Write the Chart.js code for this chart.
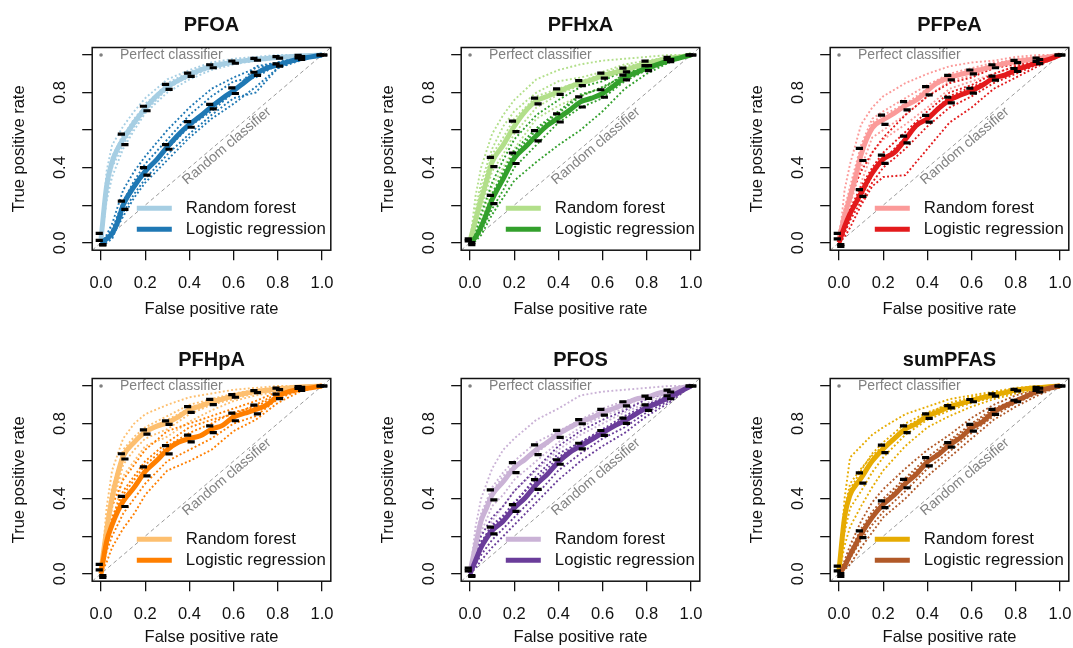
<!DOCTYPE html>
<html>
<head>
<meta charset="utf-8">
<script src="https://cdn.jsdelivr.net/npm/chart.js@4.4.1/dist/chart.umd.min.js"></script>
<style>
  html, body { margin: 0; padding: 0; background: #fff; width: 1073px; height: 648px; overflow: hidden; }
  canvas { position: absolute; }
</style>
</head>
<body>
<canvas id="c0" width="369" height="320" style="left:0px;top:0px"></canvas>
<canvas id="c1" width="369" height="320" style="left:369px;top:0px"></canvas>
<canvas id="c2" width="369" height="320" style="left:738px;top:0px"></canvas>
<canvas id="c3" width="369" height="320" style="left:0px;top:331px"></canvas>
<canvas id="c4" width="369" height="320" style="left:369px;top:331px"></canvas>
<canvas id="c5" width="369" height="320" style="left:738px;top:331px"></canvas>
<script>
// axes
var tickValues = [0, 0.2, 0.4, 0.6, 0.8, 1];
var xTickLabels = ["0.0", "0.2", "0.4", "0.6", "0.8", "1.0"];
var yTickLabels = ["0.0", "", "0.4", "", "0.8", ""];

// false positive rate grids
var meanFpr = [0, 0.025, 0.05, 0.075, 0.1, 0.15, 0.2, 0.25, 0.3, 0.35, 0.4, 0.45, 0.5, 0.55, 0.6, 0.65, 0.7, 0.75, 0.8, 0.85, 0.9, 0.95, 1];
var foldFpr = [0, 0.025, 0.05, 0.1, 0.15, 0.2, 0.3, 0.4, 0.5, 0.6, 0.7, 0.8, 0.9, 1];
var errFpr  = [0, 0.1, 0.2, 0.3, 0.4, 0.5, 0.6, 0.7, 0.8, 0.9, 1];

// PFOA
var pfoaRf = [0.02, 0.30, 0.43, 0.50, 0.55, 0.64, 0.715, 0.78, 0.83, 0.865, 0.895, 0.92, 0.94, 0.952, 0.962, 0.97, 0.977, 0.982, 0.987, 0.991, 0.995, 0.998, 1];
var pfoaLr = [0, 0.02, 0.05, 0.11, 0.2, 0.3, 0.38, 0.44, 0.51, 0.575, 0.63, 0.675, 0.725, 0.77, 0.81, 0.855, 0.9, 0.93, 0.947, 0.965, 0.98, 0.99, 1];
var pfoaRfErr = [0.03, 0.028, 0.012, 0.013, 0.009, 0.008, 0.006, 0.005, 0.004, 0.003, 0];
var pfoaLrErr = [0.012, 0.022, 0.02, 0.012, 0.015, 0.012, 0.015, 0.008, 0.006, 0.004, 0];
var pfoaRfFolds = [
  [0, 0.38, 0.52, 0.62, 0.70, 0.77, 0.87, 0.92, 0.96, 0.98, 0.99, 1, 1, 1],
  [0, 0.22, 0.35, 0.50, 0.60, 0.69, 0.80, 0.87, 0.92, 0.95, 0.97, 0.98, 0.99, 1],
  [0.05, 0.33, 0.46, 0.57, 0.66, 0.73, 0.85, 0.91, 0.95, 0.97, 0.98, 0.99, 1, 1],
  [0, 0.25, 0.40, 0.52, 0.62, 0.70, 0.82, 0.89, 0.93, 0.96, 0.975, 0.99, 0.995, 1],
  [0.02, 0.30, 0.45, 0.58, 0.63, 0.74, 0.84, 0.88, 0.94, 0.955, 0.97, 0.985, 1, 1]
];
var pfoaLrFolds = [
  [0, 0.04, 0.10, 0.28, 0.38, 0.46, 0.60, 0.72, 0.82, 0.88, 0.93, 0.96, 0.99, 1],
  [0, 0.01, 0.03, 0.14, 0.24, 0.32, 0.44, 0.56, 0.66, 0.74, 0.83, 0.93, 0.97, 1],
  [0, 0.03, 0.07, 0.22, 0.33, 0.42, 0.55, 0.68, 0.78, 0.86, 0.88, 0.95, 0.98, 1],
  [0, 0.0, 0.02, 0.16, 0.26, 0.34, 0.47, 0.58, 0.68, 0.77, 0.80, 0.93, 0.98, 1],
  [0, 0.02, 0.06, 0.21, 0.30, 0.39, 0.50, 0.62, 0.70, 0.80, 0.94, 0.96, 0.99, 1]
];

// PFHxA
var pfhxaRf = [0.01, 0.12, 0.23, 0.33, 0.43, 0.52, 0.62, 0.70, 0.755, 0.78, 0.805, 0.83, 0.85, 0.867, 0.89, 0.905, 0.92, 0.938, 0.955, 0.97, 0.982, 0.99, 1];
var pfhxaLr = [0, 0.03, 0.085, 0.155, 0.23, 0.34, 0.45, 0.51, 0.57, 0.625, 0.665, 0.705, 0.75, 0.77, 0.795, 0.835, 0.88, 0.905, 0.93, 0.95, 0.97, 0.985, 1];
var pfhxaRfErr = [0.01, 0.025, 0.028, 0.015, 0.015, 0.013, 0.013, 0.01, 0.012, 0.006, 0];
var pfhxaLrErr = [0.01, 0.022, 0.028, 0.027, 0.022, 0.027, 0.02, 0.013, 0.013, 0.006, 0];
var pfhxaRfFolds = [
  [0, 0.25, 0.40, 0.58, 0.68, 0.76, 0.87, 0.92, 0.95, 0.97, 0.98, 0.99, 1, 1],
  [0, 0.05, 0.12, 0.30, 0.40, 0.50, 0.66, 0.73, 0.78, 0.83, 0.87, 0.93, 0.97, 1],
  [0.03, 0.15, 0.28, 0.47, 0.56, 0.66, 0.78, 0.82, 0.86, 0.90, 0.94, 0.96, 0.98, 1],
  [0, 0.08, 0.18, 0.38, 0.47, 0.58, 0.72, 0.79, 0.84, 0.88, 0.90, 0.94, 0.98, 1],
  [0, 0.18, 0.32, 0.50, 0.62, 0.70, 0.80, 0.86, 0.88, 0.91, 0.95, 0.97, 0.99, 1]
];
var pfhxaLrFolds = [
  [0, 0.06, 0.15, 0.32, 0.44, 0.55, 0.68, 0.76, 0.83, 0.86, 0.92, 0.95, 0.98, 1],
  [0, 0.01, 0.04, 0.15, 0.24, 0.33, 0.43, 0.52, 0.60, 0.70, 0.82, 0.90, 0.96, 1],
  [0, 0.04, 0.10, 0.26, 0.38, 0.49, 0.61, 0.70, 0.79, 0.82, 0.90, 0.94, 0.97, 1],
  [0, 0.02, 0.06, 0.18, 0.28, 0.40, 0.52, 0.64, 0.72, 0.77, 0.86, 0.92, 0.96, 1],
  [0, 0.03, 0.09, 0.25, 0.36, 0.47, 0.60, 0.69, 0.78, 0.83, 0.89, 0.94, 0.99, 1]
];

// PFPeA
var pfpeaRf = [0.02, 0.14, 0.245, 0.35, 0.47, 0.61, 0.655, 0.69, 0.73, 0.76, 0.81, 0.855, 0.88, 0.897, 0.91, 0.925, 0.94, 0.955, 0.965, 0.973, 0.98, 0.99, 1];
var pfpeaLr = [0, 0.085, 0.155, 0.21, 0.265, 0.37, 0.445, 0.48, 0.55, 0.625, 0.66, 0.715, 0.76, 0.787, 0.81, 0.84, 0.877, 0.893, 0.92, 0.94, 0.96, 0.977, 1];
var pfpeaRfErr = [0.03, 0.032, 0.025, 0.022, 0.022, 0.012, 0.01, 0.008, 0.006, 0.004, 0];
var pfpeaLrErr = [0.02, 0.018, 0.022, 0.018, 0.018, 0.015, 0.013, 0.011, 0.008, 0.006, 0];
var pfpeaRfFolds = [
  [0, 0.28, 0.42, 0.63, 0.72, 0.78, 0.85, 0.90, 0.94, 0.96, 0.97, 0.99, 1, 1],
  [0, 0.05, 0.12, 0.32, 0.48, 0.55, 0.63, 0.72, 0.82, 0.86, 0.90, 0.94, 0.97, 1],
  [0.06, 0.18, 0.30, 0.52, 0.66, 0.70, 0.77, 0.84, 0.90, 0.93, 0.96, 0.97, 0.98, 1],
  [0, 0.10, 0.20, 0.40, 0.56, 0.60, 0.68, 0.78, 0.86, 0.89, 0.93, 0.96, 0.99, 1],
  [0.02, 0.16, 0.26, 0.48, 0.64, 0.68, 0.74, 0.82, 0.87, 0.92, 0.95, 0.98, 0.99, 1]
];
var pfpeaLrFolds = [
  [0, 0.15, 0.25, 0.38, 0.48, 0.56, 0.68, 0.78, 0.85, 0.88, 0.93, 0.95, 0.98, 1],
  [0, 0.03, 0.08, 0.20, 0.30, 0.35, 0.36, 0.50, 0.64, 0.72, 0.82, 0.88, 0.94, 1],
  [0, 0.10, 0.18, 0.30, 0.40, 0.48, 0.59, 0.70, 0.80, 0.84, 0.90, 0.94, 0.97, 1],
  [0, 0.05, 0.12, 0.22, 0.32, 0.40, 0.50, 0.62, 0.72, 0.78, 0.85, 0.90, 0.95, 1],
  [0, 0.08, 0.15, 0.24, 0.36, 0.44, 0.56, 0.67, 0.78, 0.83, 0.87, 0.93, 0.96, 1]
];

// PFHpA
var pfhpaRf = [0.02, 0.23, 0.405, 0.53, 0.625, 0.70, 0.755, 0.785, 0.805, 0.835, 0.875, 0.893, 0.915, 0.93, 0.947, 0.96, 0.97, 0.977, 0.985, 0.99, 0.995, 0.998, 1];
var pfhpaLr = [0, 0.17, 0.26, 0.33, 0.385, 0.46, 0.545, 0.6, 0.66, 0.70, 0.72, 0.735, 0.77, 0.79, 0.835, 0.855, 0.875, 0.9, 0.945, 0.97, 0.982, 0.99, 1];
var pfhpaRfErr = [0.03, 0.014, 0.011, 0.009, 0.015, 0.014, 0.007, 0.005, 0.004, 0.002, 0];
var pfhpaLrErr = [0.02, 0.027, 0.024, 0.022, 0.018, 0.018, 0.02, 0.023, 0.012, 0.005, 0];
var pfhpaRfFolds = [
  [0, 0.35, 0.55, 0.72, 0.80, 0.85, 0.90, 0.94, 0.96, 0.98, 0.99, 1, 1, 1],
  [0, 0.12, 0.26, 0.52, 0.60, 0.68, 0.73, 0.81, 0.87, 0.92, 0.95, 0.97, 0.99, 1],
  [0.05, 0.25, 0.44, 0.66, 0.73, 0.78, 0.84, 0.90, 0.93, 0.96, 0.98, 0.99, 1, 1],
  [0, 0.18, 0.35, 0.58, 0.66, 0.72, 0.77, 0.85, 0.90, 0.93, 0.96, 0.98, 0.99, 1],
  [0.02, 0.28, 0.46, 0.64, 0.71, 0.76, 0.82, 0.88, 0.93, 0.95, 0.97, 0.99, 1, 1]
];
var pfhpaLrFolds = [
  [0, 0.25, 0.36, 0.50, 0.58, 0.66, 0.76, 0.80, 0.84, 0.88, 0.92, 0.97, 0.99, 1],
  [0, 0.06, 0.14, 0.24, 0.32, 0.42, 0.55, 0.60, 0.66, 0.76, 0.82, 0.91, 0.97, 1],
  [0, 0.18, 0.28, 0.42, 0.50, 0.58, 0.68, 0.75, 0.80, 0.86, 0.89, 0.95, 0.98, 1],
  [0, 0.12, 0.20, 0.32, 0.40, 0.48, 0.60, 0.66, 0.72, 0.80, 0.84, 0.93, 0.98, 1],
  [0, 0.22, 0.30, 0.44, 0.52, 0.60, 0.70, 0.78, 0.82, 0.85, 0.90, 0.96, 0.99, 1]
];

// PFOS
var pfosRf = [0.01, 0.15, 0.28, 0.35, 0.42, 0.49, 0.565, 0.61, 0.66, 0.70, 0.745, 0.778, 0.81, 0.83, 0.86, 0.88, 0.905, 0.93, 0.94, 0.96, 0.973, 0.988, 1];
var pfosLr = [0, 0.07, 0.14, 0.19, 0.23, 0.28, 0.35, 0.405, 0.475, 0.53, 0.595, 0.645, 0.68, 0.715, 0.75, 0.785, 0.815, 0.85, 0.885, 0.91, 0.94, 0.97, 1];
var pfosRfErr = [0.02, 0.027, 0.027, 0.026, 0.019, 0.011, 0.015, 0.011, 0.006, 0.005, 0];
var pfosLrErr = [0.015, 0.018, 0.018, 0.026, 0.012, 0.015, 0.013, 0.014, 0.015, 0.008, 0];
var pfosRfFolds = [
  [0, 0.25, 0.40, 0.56, 0.66, 0.72, 0.82, 0.88, 0.95, 0.97, 0.98, 0.99, 1, 1],
  [0, 0.06, 0.15, 0.28, 0.36, 0.44, 0.55, 0.66, 0.74, 0.80, 0.86, 0.91, 0.96, 1],
  [0.03, 0.18, 0.32, 0.46, 0.54, 0.60, 0.70, 0.76, 0.82, 0.88, 0.92, 0.95, 0.98, 1],
  [0, 0.10, 0.22, 0.36, 0.42, 0.50, 0.60, 0.70, 0.78, 0.84, 0.88, 0.93, 0.96, 1],
  [0, 0.15, 0.30, 0.44, 0.52, 0.58, 0.64, 0.74, 0.80, 0.85, 0.90, 0.94, 0.98, 1]
];
var pfosLrFolds = [
  [0, 0.12, 0.20, 0.30, 0.36, 0.44, 0.56, 0.68, 0.76, 0.82, 0.87, 0.93, 0.97, 1],
  [0, 0.03, 0.07, 0.14, 0.20, 0.26, 0.38, 0.50, 0.60, 0.68, 0.75, 0.84, 0.91, 1],
  [0, 0.08, 0.16, 0.26, 0.31, 0.38, 0.50, 0.62, 0.70, 0.77, 0.84, 0.90, 0.95, 1],
  [0, 0.05, 0.10, 0.18, 0.24, 0.30, 0.42, 0.55, 0.64, 0.72, 0.78, 0.86, 0.92, 1],
  [0, 0.09, 0.17, 0.25, 0.30, 0.37, 0.52, 0.64, 0.70, 0.76, 0.83, 0.89, 0.95, 1]
];

// sumPFAS
var sumRf = [0.02, 0.30, 0.42, 0.47, 0.51, 0.60, 0.665, 0.72, 0.77, 0.80, 0.84, 0.863, 0.89, 0.906, 0.922, 0.938, 0.952, 0.965, 0.978, 0.986, 0.991, 0.996, 1];
var sumLr = [0, 0.04, 0.1, 0.155, 0.21, 0.3, 0.37, 0.42, 0.48, 0.53, 0.596, 0.635, 0.686, 0.725, 0.778, 0.81, 0.862, 0.893, 0.92, 0.947, 0.972, 0.988, 1];
var sumRfErr = [0.02, 0.027, 0.02, 0.018, 0.012, 0.006, 0.006, 0.006, 0.004, 0.002, 0];
var sumLrErr = [0.015, 0.018, 0.018, 0.022, 0.022, 0.012, 0.018, 0.013, 0.004, 0.004, 0];
var sumRfFolds = [
  [0, 0.40, 0.62, 0.68, 0.74, 0.78, 0.85, 0.89, 0.93, 0.95, 0.97, 0.99, 1, 1],
  [0, 0.15, 0.25, 0.36, 0.46, 0.55, 0.68, 0.78, 0.84, 0.89, 0.93, 0.96, 0.98, 1],
  [0.05, 0.32, 0.45, 0.55, 0.64, 0.70, 0.80, 0.86, 0.90, 0.93, 0.96, 0.98, 0.99, 1],
  [0, 0.22, 0.35, 0.44, 0.54, 0.62, 0.74, 0.82, 0.87, 0.91, 0.94, 0.97, 0.99, 1],
  [0.02, 0.34, 0.48, 0.56, 0.63, 0.68, 0.78, 0.85, 0.91, 0.94, 0.96, 0.98, 1, 1]
];
var sumLrFolds = [
  [0, 0.07, 0.15, 0.28, 0.38, 0.45, 0.56, 0.66, 0.74, 0.83, 0.90, 0.95, 0.98, 1],
  [0, 0.02, 0.05, 0.14, 0.22, 0.30, 0.40, 0.52, 0.62, 0.72, 0.82, 0.89, 0.95, 1],
  [0, 0.05, 0.12, 0.24, 0.33, 0.40, 0.51, 0.62, 0.71, 0.80, 0.88, 0.93, 0.98, 1],
  [0, 0.03, 0.08, 0.18, 0.26, 0.33, 0.44, 0.56, 0.65, 0.75, 0.84, 0.91, 0.96, 1],
  [0, 0.05, 0.11, 0.22, 0.31, 0.38, 0.50, 0.60, 0.70, 0.79, 0.87, 0.92, 0.97, 1]
];

var titles = ["PFOA", "PFHxA", "PFPeA", "PFHpA", "PFOS", "sumPFAS"];
var rfColors = ["#A6CEE3", "#B2DF8A", "#FB9A99", "#FDBF6F", "#CAB2D6", "#E6AB02"];
var lrColors = ["#1F78B4", "#33A02C", "#E31A1C", "#FF7F00", "#6A3D9A", "#B15928"];

var panels = [
  { rf: pfoaRf, lr: pfoaLr, rfErr: pfoaRfErr, lrErr: pfoaLrErr, rfFolds: pfoaRfFolds, lrFolds: pfoaLrFolds },
  { rf: pfhxaRf, lr: pfhxaLr, rfErr: pfhxaRfErr, lrErr: pfhxaLrErr, rfFolds: pfhxaRfFolds, lrFolds: pfhxaLrFolds },
  { rf: pfpeaRf, lr: pfpeaLr, rfErr: pfpeaRfErr, lrErr: pfpeaLrErr, rfFolds: pfpeaRfFolds, lrFolds: pfpeaLrFolds },
  { rf: pfhpaRf, lr: pfhpaLr, rfErr: pfhpaRfErr, lrErr: pfhpaLrErr, rfFolds: pfhpaRfFolds, lrFolds: pfhpaLrFolds },
  { rf: pfosRf, lr: pfosLr, rfErr: pfosRfErr, lrErr: pfosLrErr, rfFolds: pfosRfFolds, lrFolds: pfosLrFolds },
  { rf: sumRf, lr: sumLr, rfErr: sumRfErr, lrErr: sumLrErr, rfFolds: sumRfFolds, lrFolds: sumLrFolds }
];

var FONT = '"Liberation Sans", Arial, Helvetica, sans-serif';
Chart.defaults.font.family = FONT;
Chart.defaults.color = "#111";

function pts(xs, ys) {
  return xs.map(function (x, i) { return { x: x, y: ys[i] }; });
}

// black caps of the error bars, above and below the mean curve
function caps(mean, err) {
  var out = [];
  errFpr.forEach(function (f, i) {
    var m = mean[meanFpr.indexOf(f)];
    out.push({ x: f - 0.008, y: m + err[i] });
    out.push({ x: f + 0.008, y: m - err[i] });
  });
  return out;
}

var decor = {
  id: "decor",
  beforeDatasetsDraw: function (chart, args, opts) {
    var ctx = chart.ctx, xs = chart.scales.x, ys = chart.scales.y;
    var ang = Math.atan2(ys.getPixelForValue(0) - ys.getPixelForValue(1), xs.getPixelForValue(1) - xs.getPixelForValue(0));
    ctx.save();
    ctx.fillStyle = "#808080";
    ctx.font = "14px " + FONT;
    ctx.translate(xs.getPixelForValue(0.57), ys.getPixelForValue(0.515));
    ctx.rotate(-ang);
    ctx.textAlign = "center";
    ctx.textBaseline = "middle";
    ctx.fillText("Random classifier", 0, 0);
    ctx.restore();
  },
  afterDatasetsDraw: function (chart, args, opts) {
    var ctx = chart.ctx, a = chart.chartArea, xs = chart.scales.x, ys = chart.scales.y;
    ctx.save();
    // perfect classifier label
    ctx.fillStyle = "#808080";
    ctx.font = "14px " + FONT;
    ctx.textAlign = "left";
    ctx.textBaseline = "middle";
    ctx.fillText("Perfect classifier", xs.getPixelForValue(0) + 19, ys.getPixelForValue(1));
    // legend
    var rows = [["Random forest", opts.rf, a.bottom - 42], ["Logistic regression", opts.lr, a.bottom - 21]];
    ctx.font = "16.8px " + FONT;
    rows.forEach(function (r) {
      ctx.strokeStyle = r[1];
      ctx.lineWidth = 5;
      ctx.lineCap = "butt";
      ctx.beginPath();
      ctx.moveTo(a.right - 194, r[2]);
      ctx.lineTo(a.right - 159, r[2]);
      ctx.stroke();
      ctx.fillStyle = "#111";
      ctx.fillText(r[0], a.right - 145, r[2]);
    });
    ctx.restore();
  },
  afterDraw: function (chart, args, opts) {
    var ctx = chart.ctx, a = chart.chartArea;
    ctx.save();
    ctx.strokeStyle = "#111";
    ctx.lineWidth = 1.5;
    ctx.strokeRect(a.left, a.top, a.right - a.left, a.bottom - a.top);
    ctx.fillStyle = "#111";
    ctx.font = "bold 20px " + FONT;
    ctx.textAlign = "center";
    ctx.textBaseline = "middle";
    ctx.fillText(opts.title, (a.left + a.right) / 2, opts.titleY);
    ctx.restore();
  }
};

panels.forEach(function (p, k) {
  var bottomRow = k >= 3;
  var ds = [];
  ds.push({ data: caps(p.lr, p.lrErr).concat(caps(p.rf, p.rfErr)), showLine: false,
            pointStyle: "line", pointRadius: 3.6, pointBorderWidth: 3.2, pointBorderColor: "#000" });
  ds.push({ data: [{ x: 0, y: 1 }], showLine: false, pointRadius: 1.8, pointBorderWidth: 0,
            pointBackgroundColor: "#808080" });
  ds.push({ data: pts(meanFpr, p.lr), borderColor: lrColors[k], borderWidth: 5, pointRadius: 0,
            cubicInterpolationMode: "monotone" });
  ds.push({ data: pts(meanFpr, p.rf), borderColor: rfColors[k], borderWidth: 5, pointRadius: 0,
            cubicInterpolationMode: "monotone" });
  p.lrFolds.forEach(function (f) {
    ds.push({ data: pts(foldFpr, f), borderColor: lrColors[k], borderWidth: 1.9, borderDash: [1.9, 2.3], pointRadius: 0 });
  });
  p.rfFolds.forEach(function (f) {
    ds.push({ data: pts(foldFpr, f), borderColor: rfColors[k], borderWidth: 1.9, borderDash: [1.9, 2.3], pointRadius: 0 });
  });
  ds.push({ data: [{ x: -0.04, y: -0.04 }, { x: 1.04, y: 1.04 }], borderColor: "#9a9a9a", borderWidth: 1,
            borderDash: [4, 3], pointRadius: 0 });

  new Chart(document.getElementById("c" + k), {
    type: "line",
    data: { datasets: ds },
    options: {
      responsive: false,
      animation: false,
      events: [],
      layout: { padding: { top: 47.5, right: 38.2, bottom: 0, left: 0 } },
      plugins: {
        legend: { display: false },
        tooltip: { enabled: false },
        decor: { title: titles[k], rf: rfColors[k], lr: lrColors[k], titleY: bottomRow ? 29.7 : 25 }
      },
      scales: {
        x: {
          type: "linear", min: -0.04, max: 1.04,
          afterBuildTicks: function (s) { s.ticks = tickValues.map(function (v) { return { value: v }; }); },
          afterFit: function (s) { s.height = 69.8; },
          grid: { drawOnChartArea: false, drawTicks: true, tickLength: 10, color: "#111", lineWidth: 1.3 },
          border: { display: false },
          ticks: { autoSkip: false, maxRotation: 0, padding: 13.5, font: { size: 16.5 }, color: "#111",
                   callback: function (v, i) { return xTickLabels[i]; } },
          title: { display: true, text: "False positive rate", font: { size: 16.5 }, color: "#111",
                   padding: { top: 0, bottom: bottomRow ? 4 : 0.4 } }
        },
        y: {
          type: "linear", min: -0.04, max: 1.04,
          afterBuildTicks: function (s) { s.ticks = tickValues.map(function (v) { return { value: v }; }); },
          afterFit: function (s) { s.width = 92.2; },
          grid: { drawOnChartArea: false, drawTicks: true, tickLength: 10, color: "#111", lineWidth: 1.3 },
          border: { display: false },
          ticks: { autoSkip: false, minRotation: 90, maxRotation: 90, crossAlign: "center", padding: 10.6,
                   font: { size: 16.5 }, color: "#111",
                   callback: function (v, i) { return yTickLabels[i]; } },
          title: { display: true, text: "True positive rate", font: { size: 16.5 }, color: "#111",
                   padding: { top: 10, bottom: 0 } }
        }
      }
    },
    plugins: [decor]
  });
});
</script>
</body>
</html>
